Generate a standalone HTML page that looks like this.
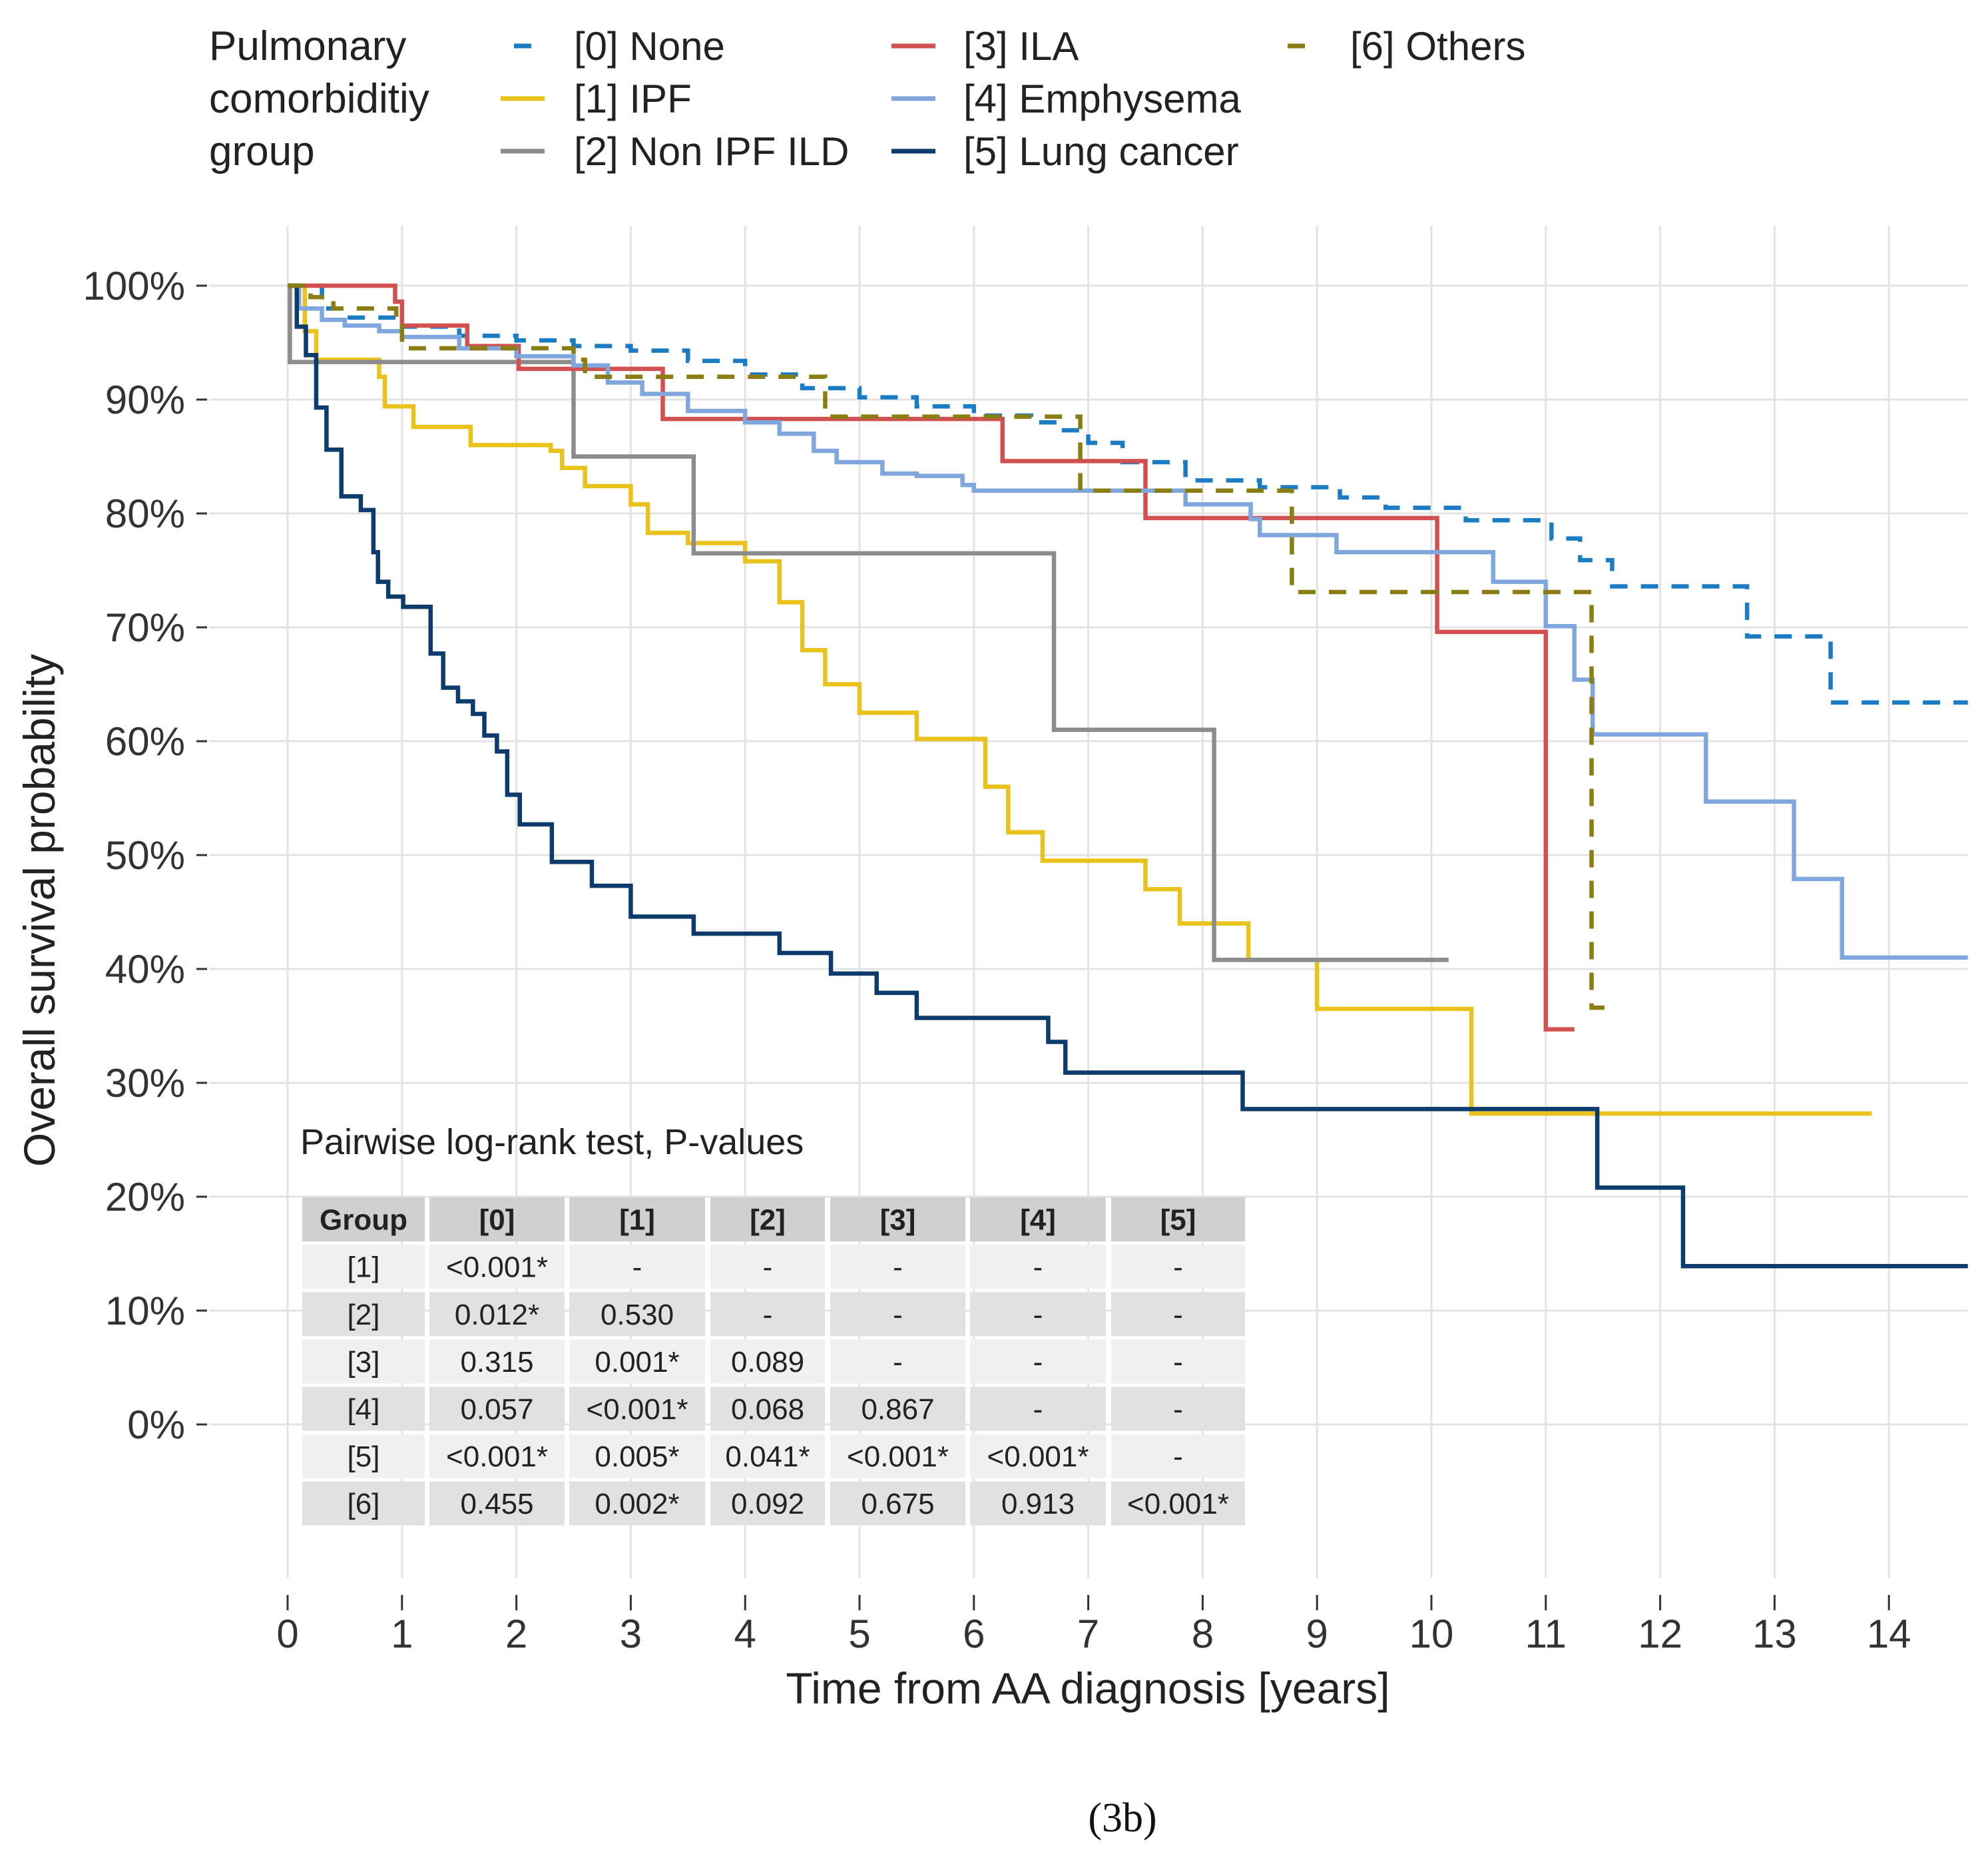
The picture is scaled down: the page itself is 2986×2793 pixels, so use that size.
<!DOCTYPE html>
<html><head><meta charset="utf-8">
<style>
html,body{margin:0;padding:0;background:#fff;}
svg{display:block;font-family:"Liberation Sans",sans-serif;}
</style></head>
<body>
<svg id="chart" width="2986" height="2793" viewBox="0 0 2986 2793" xmlns="http://www.w3.org/2000/svg">
<rect width="2986" height="2793" fill="#fff"/>
<g id="grid"></g>
<g id="axes"></g>
<g id="series"></g>
<g id="legend"></g>
<g id="table"></g>
<text x="0" y="0" transform="translate(82,1367) rotate(-90)" text-anchor="middle" font-size="66" fill="#222">Overall survival probability</text>
<text x="1634" y="2558" text-anchor="middle" font-size="66" fill="#222">Time from AA diagnosis [years]</text>
<text x="1686" y="2750" text-anchor="middle" font-size="62" font-family="Liberation Serif, serif" fill="#111">(3b)</text>
</svg>
<script>
const xTicks=[0,1,2,3,4,5,6,7,8,9,10,11,12,13,14];
const yTicks=[0,10,20,30,40,50,60,70,80,90,100];
const tEnd=14.69;
// step data: times where a step begins, survival (%) from that time
const noneT=[0,0.3,0.5,1.0,1.5,2.0,2.5,3.0,3.5,4.0,4.5,5.0,5.5,6.0,6.5,6.73,7.0,7.3,7.85,8.5,9.2,9.6,10.3,11.05,11.3,11.58,12.76,13.49];
const noneS=[100,98,97.2,96.4,95.6,95.2,94.7,94.3,93.4,92.2,91.0,90.2,89.4,88.6,88.0,87.3,86.2,84.5,82.9,82.3,81.4,80.5,79.4,77.8,75.9,73.6,69.2,63.4];
const noneEnd=tEnd;
const ipfT=[0,0.15,0.25,0.8,0.85,1.1,1.6,2.3,2.4,2.6,3.0,3.15,3.5,4.0,4.3,4.5,4.7,5.0,5.5,6.1,6.3,6.6,7.5,7.8,8.4,9.0,10.35];
const ipfS=[100,96,93.5,92,89.4,87.6,86,85.5,84,82.4,80.8,78.3,77.4,75.8,72.2,68,65,62.5,60.2,56,52,49.5,47,44,40.8,36.5,27.3];
const ipfEnd=13.85;
const ildT=[0,0.02,2.5,3.55,6.7,8.1];
const ildS=[100,93.3,85,76.5,61,40.8];
const ildEnd=10.15;
const ilaT=[0,0.94,1.0,1.57,2.02,3.28,6.25,7.5,10.05,11.0];
const ilaS=[100,98.6,96.5,94.7,92.7,88.3,84.6,79.6,69.6,34.7];
const ilaEnd=11.25;
const emphT=[0,0.1,0.3,0.5,0.8,1.0,1.5,2.0,2.5,2.8,3.1,3.5,4.0,4.3,4.6,4.8,5.2,5.5,5.9,6.0,7.85,8.42,8.5,9.17,10.54,11.0,11.25,11.41,12.4,13.17,13.59];
const emphS=[100,98,97,96.5,96,95.5,94.5,93.8,93,91.5,90.5,89,88,87,85.5,84.5,83.5,83.3,82.5,82,80.8,79.5,78.1,76.6,74.0,70.1,65.4,60.6,54.7,47.9,41.0];
const emphEnd=tEnd;
const lungT=[0,0.08,0.16,0.25,0.34,0.47,0.64,0.75,0.79,0.88,1.01,1.25,1.36,1.49,1.62,1.72,1.83,1.92,2.03,2.31,2.66,3.0,3.55,4.3,4.75,5.15,5.5,6.65,6.8,8.35,11.45,12.2];
const lungS=[100,96.4,93.9,89.3,85.6,81.5,80.3,76.6,74.0,72.7,71.8,67.7,64.7,63.5,62.4,60.5,59.1,55.3,52.7,49.4,47.3,44.6,43.1,41.4,39.6,37.9,35.7,33.6,30.9,27.7,20.8,13.9];
const lungEnd=tEnd;
const othT=[0,0.2,0.4,0.95,1.0,2.5,2.6,4.7,6.93,8.78,11.4];
const othS=[100,99,98,96.5,94.5,93.5,92,88.5,82,73.1,36.6];
const othEnd=11.61;
const groupLabels=["[0] None","[1] IPF","[2] Non IPF ILD","[3] ILA","[4] Emphysema","[5] Lung cancer","[6] Others"];
const tableHeader=["Group","[0]","[1]","[2]","[3]","[4]","[5]"];
const tableRows=[
["[1]","<0.001*","-","-","-","-","-"],
["[2]","0.012*","0.530","-","-","-","-"],
["[3]","0.315","0.001*","0.089","-","-","-"],
["[4]","0.057","<0.001*","0.068","0.867","-","-"],
["[5]","<0.001*","0.005*","0.041*","<0.001*","<0.001*","-"],
["[6]","0.455","0.002*","0.092","0.675","0.913","<0.001*"]];

const NS="http://www.w3.org/2000/svg";
const X=t=>432+171.8*t;
const Y=p=>429+17.1*(100-p);
function mk(tag,attrs,parent){const e=document.createElementNS(NS,tag);for(const k in attrs)e.setAttribute(k,attrs[k]);parent.appendChild(e);return e;}
const grid=document.getElementById('grid'),axes=document.getElementById('axes');
xTicks.forEach(t=>{
  const l=mk('line',{x1:X(t),x2:X(t),y1:339,y2:2370,stroke:'#e3e3e3','stroke-width':3},grid);
  
  
  const tk=mk('line',{x1:X(t),x2:X(t),y1:2395,y2:2418,stroke:'#333','stroke-width':3},axes);
  
  
  const tx=mk('text',{x:X(t),y:2474,'text-anchor':'middle','font-size':60,fill:'#333'},axes);
  tx.textContent=t;
  
  
});
yTicks.forEach(p=>{
  const l=mk('line',{x1:314,x2:2955,y1:Y(p),y2:Y(p),stroke:'#e3e3e3','stroke-width':3},grid);
  
  
  const tk=mk('line',{x1:295,x2:311,y1:Y(p),y2:Y(p),stroke:'#333','stroke-width':3},axes);
  
  
  const tx=mk('text',{x:278,y:Y(p)+21,'text-anchor':'end','font-size':60,fill:'#333'},axes);
  tx.textContent=p+'%';
  
  
});
const series=[
 {n:'none',T:noneT,S:noneS,E:noneEnd,c:'#1b7cc4',d:'26 20'},
 {n:'ipf',T:ipfT,S:ipfS,E:ipfEnd,c:'#e9c21c',d:''},
 {n:'non-ipf-ild',T:ildT,S:ildS,E:ildEnd,c:'#8c8c8c',d:''},
 {n:'ila',T:ilaT,S:ilaS,E:ilaEnd,c:'#d2504f',d:''},
 {n:'emphysema',T:emphT,S:emphS,E:emphEnd,c:'#7fa6dd',d:''},
 {n:'lung-cancer',T:lungT,S:lungS,E:lungEnd,c:'#0d3c6c',d:''},
 {n:'others',T:othT,S:othS,E:othEnd,c:'#8a7d14',d:'26 20'}];
const sg=document.getElementById('series');
series.forEach(s=>{
  let d='M'+X(s.T[0])+' '+Y(s.S[0]);
  for(let i=1;i<s.T.length;i++){d+=' H'+X(s.T[i])+' V'+Y(s.S[i]);}
  d+=' H'+X(s.E);
  const p=mk('path',{d:d,fill:'none',stroke:s.c,'stroke-width':6.5,'stroke-linejoin':'miter'},sg);
  if(s.d)p.setAttribute('stroke-dasharray',s.d);
  
  
});
// legend
const lg=document.getElementById('legend');
['Pulmonary','comorbiditiy','group'].forEach((w,i)=>{
  const t=mk('text',{x:314,y:90+i*79,'font-size':62,fill:'#222'},lg);t.textContent=w;
  
  
});
const colX=[[752,862],[1339,1447],[1914,2028]];
groupLabels.forEach((lab,i)=>{
  const col=Math.floor(i/3),row=i%3,cy=69+row*79;
  const k=mk('line',{x1:colX[col][0],x2:colX[col][0]+66,y1:cy,y2:cy,stroke:series[i].c,'stroke-width':7},lg);
  if(series[i].d)k.setAttribute('stroke-dasharray','0 20 26 20');
  
  
  const t=mk('text',{x:colX[col][1],y:cy+21,'font-size':60,fill:'#222'},lg);t.textContent=lab;
  
  
});
// table
const tb=document.getElementById('table');
const tt=mk('text',{x:451,y:1733,'font-size':54,fill:'#222'},tb);
tt.textContent='Pairwise log-rank test, P-values';


const cols=[[454,638],[645,848],[855,1059],[1067,1239],[1247,1450],[1457,1661],[1669,1870]];
const rowH=71.1,top0=1796;
[tableHeader].concat(tableRows).forEach((r,ri)=>{
  const y0=top0+ri*rowH;
  const bg=ri==0?'#d0d0d0':(ri%2==1?'#f0f0f0':'#e1e1e1');
  r.forEach((v,ci)=>{
    const rc=mk('rect',{x:cols[ci][0],y:y0+2,width:cols[ci][1]-cols[ci][0],height:rowH-5,fill:bg},tb);
    
    
    const t=mk('text',{x:(cols[ci][0]+cols[ci][1])/2,y:y0+rowH/2+15,'text-anchor':'middle','font-size':44,fill:'#222','font-weight':ri==0?'bold':'normal'},tb);
    t.textContent=v;
    
    
  });
});
</script>
</body></html>
